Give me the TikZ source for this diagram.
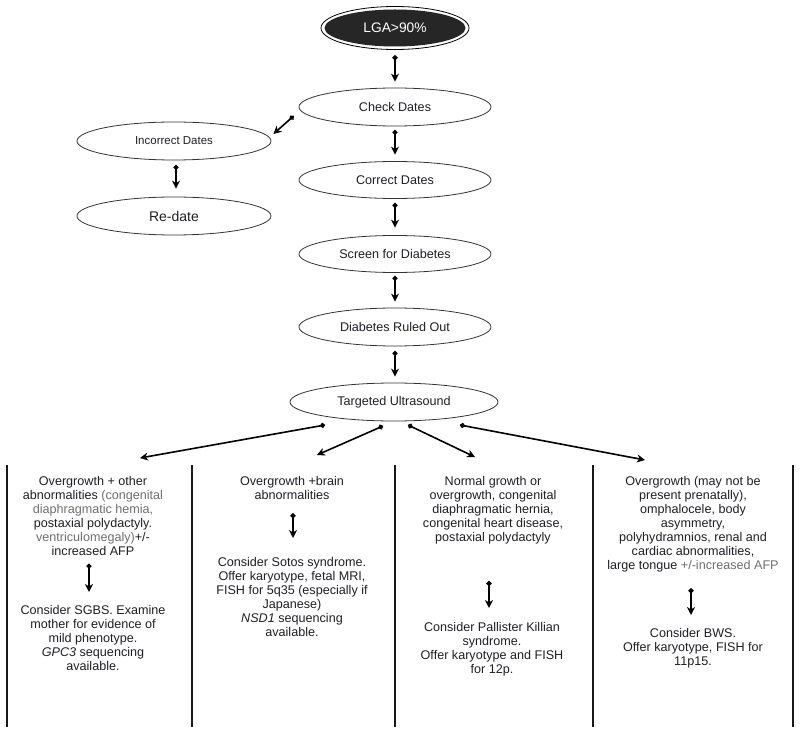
\documentclass[tikz,border=0pt]{standalone}
\usepackage{fontspec}
\setmainfont{Liberation Sans}
\usetikzlibrary{shapes.geometric,arrows.meta,calc}
\definecolor{tgrey}{HTML}{6E6E6E}
\definecolor{ink}{HTML}{1E1E24}
\begin{document}
\begin{tikzpicture}[x=1pt,y=-1pt,
  oval/.style={ellipse,draw=black!80,line width=0.8pt,inner sep=0pt,
    minimum width=192pt,minimum height=38pt,text=ink,
    font=\fontsize{12.6}{14.1}\selectfont},
  lgaoval/.style={ellipse,fill=black!85,inner sep=0pt,minimum width=141pt,
    minimum height=37pt,text=white,font=\fontsize{13.8}{15}\selectfont},
  conn/.style={line width=1.6pt,draw=black,
    {Circle[length=5pt]}-{Stealth[length=8pt,width=8pt,inset=2.5pt]}},
  coltext/.style={align=center,inner sep=0pt,anchor=north,text=ink,
    font=\fontsize{12.6}{14.1}\selectfont},
  divider/.style={line width=1.8pt,draw=black!90}]
\useasboundingbox (0,0) rectangle (800,735);

% top chain
\node[lgaoval] (lga) at (395,28) {LGA>90\%};
\draw[line width=0.8pt] (lga.center) ellipse [x radius=74pt, y radius=21.5pt];
\node[oval] (check) at (395,107) {Check Dates};
\node[oval,minimum width=194pt,font=\fontsize{11.5}{13}\selectfont] (incorrect) at (174,141) {Incorrect Dates};
\node[oval,minimum width=194pt,font=\fontsize{14}{15}\selectfont] (redate) at (174,216) {Re-date};
\node[oval,minimum height=37pt] (correct) at (395,180) {Correct Dates};
\node[oval,minimum height=37pt] (screen) at (395,254) {Screen for Diabetes};
\node[oval] (ruled) at (395,327) {Diabetes Ruled Out};
\node[oval,minimum width=208pt] (tu) at (394,402) {Targeted Ultrasound};

\draw[conn,shorten <=8.5pt,shorten >=6pt] (lga.south) -- (lga.south |- check.north);
\draw[conn,shorten <=3.5pt,shorten >=6.5pt] (check.south) -- (check.south |- correct.north);
\draw[conn,shorten <=4pt,shorten >=7.5pt] (correct.south) -- (correct.south |- screen.north);
\draw[conn,shorten <=3pt,shorten >=6pt] (screen.south) -- (screen.south |- ruled.north);
\draw[conn,shorten <=4.5pt,shorten >=6pt] (ruled.south) -- (ruled.south |- tu.north);
\draw[conn] ($(check.west)+(-5,9)$) -- ($(incorrect.east)+(2,-7)$);
\draw[conn,shorten <=4.5pt,shorten >=8pt] ([xshift=2pt]incorrect.south) -- ([xshift=2pt]incorrect.south |- redate.north);

% column dividers
\foreach \xx in {7,192,395,593,793}
  \draw[divider] (\xx,465) -- (\xx,727);

% branch targets
\coordinate (h1) at (140,458);
\coordinate (h2) at (317,455);
\coordinate (h3) at (475,457);
\coordinate (h4) at (645,460);
\draw[conn] ($(tu.center)+(-69,23)$) -- (h1);
\draw[conn] ($(tu.center)+(-11,24)$) -- (h2);
\draw[conn] ($(tu.center)+(14,23)$) -- (h3);
\draw[conn] ($(tu.center)+(66,23)$) -- (h4);

% column 1
\node[coltext] (c1a) at (93,476) {Overgrowth + other\\
abnormalities {\color{tgrey}(congenital}\\
{\color{tgrey}diaphragmatic hemia,}\\
postaxial polydactyly.\\
{\color{tgrey}ventriculomegaly)}+/-\\
increased AFP};
\node[coltext] (c1b) at (93,605) {Consider SGBS. Examine\\
mother for evidence of\\
mild phenotype.\\
\textit{GPC3} sequencing\\
available.};
\draw[conn,shorten <=7.5pt,shorten >=13pt] ([xshift=-4pt]c1a.south) -- ([xshift=-4pt]c1a.south |- c1b.north);

% column 2
\node[coltext] (c2a) at (292,476) {Overgrowth +brain\\
abnormalities};
\node[coltext] (c2b) at (292,557) {Consider Sotos syndrome.\\
Offer karyotype, fetal MRI,\\
FISH for 5q35 (especially if\\
Japanese)\\
\textit{NSD1} sequencing\\
available.};
\draw[conn,shorten <=13.5pt,shorten >=19pt] ([xshift=1pt]c2a.south) -- ([xshift=1pt]c2a.south |- c2b.north);

% column 3
\node[coltext] (c3a) at (493,476) {Normal growth or\\
overgrowth, congenital\\
diaphragmatic hernia,\\
congenital heart disease,\\
postaxial polydactyly};
\node[coltext] (c3b) at (492,622) {Consider Pallister Killian\\
syndrome.\\
Offer karyotype and FISH\\
for 12p.};
\draw[conn,shorten <=36.5pt,shorten >=14pt] ([xshift=-4pt]c3a.south) -- ([xshift=-4pt]c3a.south |- c3b.north);

% column 4
\node[coltext] (c4a) at (693,476) {Overgrowth (may not be\\
present prenatally),\\
omphalocele, body\\
asymmetry,\\
polyhydramnios, renal and\\
cardiac abnormalities,\\
large tongue {\color{tgrey}+/-increased AFP}};
\node[coltext] (c4b) at (693,628) {Consider BWS.\\
Offer karyotype, FISH for\\
11p15.};
\draw[conn,shorten <=15.5pt,shorten >=13pt] ([xshift=-2pt]c4a.south) -- ([xshift=-2pt]c4a.south |- c4b.north);
\end{tikzpicture}
\end{document}
